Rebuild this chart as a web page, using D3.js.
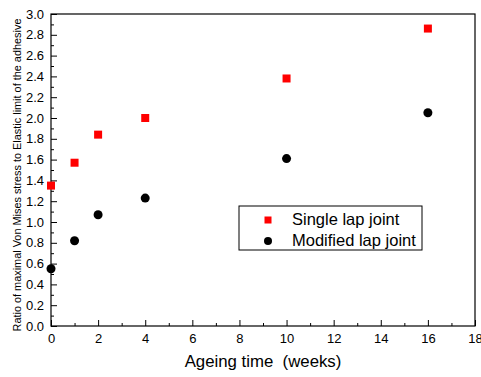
<!DOCTYPE html>
<html><head><meta charset="utf-8">
<script src="https://cdn.jsdelivr.net/npm/d3@7"></script>
<style>body{margin:0;background:#fff;overflow:hidden;}svg{display:block;font-family:"Liberation Sans",Arial,sans-serif;}</style>
</head><body><svg id="c" width="481" height="377"></svg>
<script>
const weeks = [0, 1, 2, 4, 10, 16];
const singleLap = [1.35, 1.57, 1.84, 2.00, 2.38, 2.86];
const modifiedLap = [0.55, 0.82, 1.07, 1.23, 1.61, 2.05];
const xTicks = [0, 2, 4, 6, 8, 10, 12, 14, 16, 18];
const yTicks = [0.0,0.2,0.4,0.6,0.8,1.0,1.2,1.4,1.6,1.8,2.0,2.2,2.4,2.6,2.8,3.0];
const seriesNames = ["Single lap joint", "Modified lap joint"];

const svg = d3.select("#c");
const L = 51, R = 475, T = 14, B = 326;
const x = d3.scaleLinear().domain([0, 18]).range([L, R]);
const y = d3.scaleLinear().domain([0, 3]).range([B, T]);

// frame
svg.append("rect").attr("x", L).attr("y", T).attr("width", R - L).attr("height", B - T)
  .attr("fill", "none").attr("stroke", "#000").attr("stroke-width", 1.2);

// x axis
const xa = svg.append("g").attr("transform", `translate(0,${B})`)
  .call(d3.axisBottom(x).tickValues(xTicks).tickFormat(d3.format("d")).tickSize(-6).tickPadding(8));
const xm = svg.append("g").attr("transform", `translate(0,${B})`)
  .call(d3.axisBottom(x).tickValues(d3.range(1, 18, 2)).tickFormat("").tickSize(-3));
// y axis
const ya = svg.append("g").attr("transform", `translate(${L},0)`)
  .call(d3.axisLeft(y).tickValues(yTicks).tickFormat(d3.format(".1f")).tickSize(-6).tickPadding(7));
const ym = svg.append("g").attr("transform", `translate(${L},0)`)
  .call(d3.axisLeft(y).tickValues(d3.range(0.1, 3, 0.2)).tickFormat("").tickSize(-3));
[xa, xm, ya, ym].forEach(g => {
  g.select(".domain").remove();
  g.selectAll("line").attr("stroke", "#000").attr("stroke-width", 1);
  g.selectAll("text").attr("fill", "#000").style("font-size", "13px")
    .style("font-family", '"Liberation Sans",Arial,sans-serif');
});

// axis titles
svg.append("text").attr("x", 263).attr("y", 367).attr("text-anchor", "middle")
  .style("font-size", "16.8px").style("white-space", "pre").attr("xml:space", "preserve")
  .text("Ageing time  (weeks)");
svg.append("text").attr("transform", `translate(20.5,175) rotate(-90)`)
  .attr("text-anchor", "middle").style("font-size", "10.9px")
  .text("Ratio of maximal Von Mises stress to Elastic limit of the adhesive");

// points
const sq = 8;
svg.append("g").selectAll("rect").data(weeks).join("rect")
  .attr("x", (d) => x(d) - sq / 2).attr("y", (d, i) => y(singleLap[i]) - sq / 2)
  .attr("width", sq).attr("height", sq).attr("fill", "#ff0000");
svg.append("g").selectAll("circle").data(weeks).join("circle")
  .attr("cx", (d) => x(d)).attr("cy", (d, i) => y(modifiedLap[i])).attr("r", 4.5).attr("fill", "#000");

// legend
const lg = svg.append("g");
lg.append("rect").attr("x", 239).attr("y", 206).attr("width", 183).attr("height", 44)
  .attr("fill", "#fff").attr("stroke", "#000").attr("stroke-width", 1);
lg.append("rect").attr("x", 268 - 3.5).attr("y", 220 - 3.5).attr("width", 7).attr("height", 7).attr("fill", "#ff0000");
lg.append("circle").attr("cx", 268).attr("cy", 241).attr("r", 4).attr("fill", "#000");
lg.selectAll("text").data(seriesNames).join("text")
  .attr("x", 292).attr("y", (d, i) => 225 + i * 21).style("font-size", "16.5px").text(d => d);
</script></body></html>
